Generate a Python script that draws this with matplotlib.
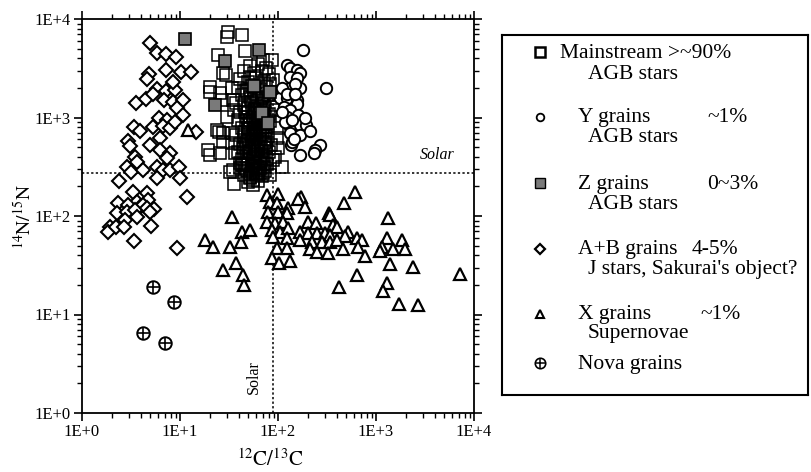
import matplotlib
matplotlib.use("Agg")
import matplotlib.pyplot as plt
from matplotlib.ticker import LogLocator, NullFormatter, FixedFormatter, FixedLocator
import numpy as np

plt.rcParams['font.family'] = ['Liberation Serif', 'DejaVu Serif']
plt.rcParams['mathtext.fontset'] = 'stix'

# ---------------- data (12C/13C, 14N/15N) ----------------
mainstream_c = [31.1, 30.4, 42.6, 46, 24.6, 27.7, 29.5, 70.8, 86.2, 20.2, 20.2, 33.7, 25.6, 26.6, 35,
                35.6, 30, 23.7, 25.2, 27.7, 33.7, 27.7, 33.7, 20.2, 19.4, 25.6, 36.4, 32.4, 40.9, 35.6,
                56, 35, 42.6, 109, 93.2, 101, 97, 97, 82.8, 65.5, 51.8, 89.5, 93.2, 95.4,
                52, 63, 75, 45, 57, 68, 80, 41, 49, 60, 72, 83, 39, 47, 54, 66, 76,
                43, 52, 59, 69, 84, 37, 45, 54, 62, 72, 88, 41, 49, 57, 65, 80,
                39, 47, 55, 62, 71, 83, 43, 49, 57, 66, 76, 37, 45, 52, 60, 69, 79,
                41, 47, 54, 62, 72, 84, 39, 45, 52, 59, 69, 80, 43, 49, 57, 66, 75, 88,
                41, 47, 54, 63, 72, 45, 52, 60, 69,
                50, 58, 66, 74, 48, 56, 63, 70, 51, 59, 67, 74, 46, 55, 63, 71,
                49, 57, 65, 75, 44, 51, 60, 67, 76, 47, 55, 63, 72, 50, 58, 66, 78,
                48, 56, 64, 74, 55, 62, 50,
                53, 61, 68, 46, 58, 71, 52, 64, 49, 60, 70, 54, 66, 47, 57, 73, 51, 62,
                56, 68, 45, 59, 65, 53, 61, 70, 48, 57, 64, 52]
mainstream_n = [7430, 6640, 6880, 4730, 4310, 2810, 2700, 3840, 3840, 2060, 1830, 1980, 1760, 1510, 1510,
                1190, 1020, 747, 718, 692, 692, 568, 547, 416, 468, 433, 433, 282, 343, 211,
                207, 293, 330, 317, 400, 487, 615, 777, 261, 272, 242, 2400, 1690, 1190,
                3350, 3500, 3200, 2950, 2800, 3000, 2750, 2450, 2300, 2500, 2350, 2200, 2000, 1900, 2100, 1950, 2050,
                1700, 1600, 1750, 1620, 1680, 1400, 1330, 1420, 1300, 1380, 1350, 1150, 1100, 1180, 1120, 1080,
                950, 920, 980, 900, 960, 930, 790, 760, 810, 770, 800, 660, 640, 680, 630, 670, 650,
                540, 520, 560, 530, 550, 520, 450, 440, 460, 430, 455, 445, 375, 360, 385, 365, 380, 370,
                310, 300, 320, 305, 315, 260, 250, 265, 255,
                1250, 1230, 1270, 1240, 1020, 1040, 1000, 1030, 870, 850, 880, 860, 720, 700, 730, 710,
                600, 590, 610, 600, 490, 500, 480, 500, 490, 410, 400, 415, 405, 340, 335, 345, 340,
                285, 280, 290, 285, 230, 225, 220,
                1550, 1500, 1580, 1150, 1120, 1160, 940, 920, 790, 770, 800, 650, 660, 560, 540, 570, 450, 470,
                380, 390, 330, 320, 310, 270, 260, 275, 1850, 1800, 1870, 2600]

y_c = [181, 307, 123, 132, 155, 168, 132, 155, 132, 168, 150, 105, 123, 155, 115, 155, 132, 123, 160,
       132, 168, 195, 132, 168, 212, 268, 239, 136, 168, 232, 140, 110, 118, 145, 125, 150, 110, 140, 190]
y_n = [4840, 1980, 3410, 3200, 3040, 2800, 2600, 2500, 1980, 1980, 2200, 1570, 1570, 1500, 1290, 1380,
       1180, 1020, 1070, 807, 830, 830, 691, 670, 730, 526, 468, 526, 416, 440, 560, 2000, 900, 600,
       1750, 1750, 1150, 950, 1000]

z_c = [11.2, 28.8, 64.0, 23.0, 57.5, 81.9, 68.2, 78.5]
z_n = [6220, 3750, 4880, 1324, 2075, 1828, 1111, 880]

ab_c = [4.94, 5.87, 7.19, 9.10, 7.19, 4.86, 4.64, 10.2, 12.9, 5.78, 7.19, 8.89, 8.55, 3.56, 4.50, 5.34,
        6.87, 8.55, 10.8, 9.25, 10.8, 6.06, 7.31, 3.39, 3.91, 5.34, 6.66, 7.91, 8.89, 2.97, 3.09, 3.47,
        4.94, 6.25, 6.25, 7.91, 7.31, 2.86, 3.61, 2.40, 3.14, 4.22, 5.78, 6.76, 5.78, 7.91, 9.84, 10.0,
        11.7, 3.34, 3.61, 4.57, 4.75, 2.35, 2.97, 3.91, 4.22, 2.29, 2.86, 3.47, 4.64, 5.43, 2.75, 3.61,
        4.94, 1.93, 1.85, 2.22, 2.68, 5.02, 3.39, 9.38, 14.6]
ab_n = [5740, 4490, 4380, 4140, 3040, 2760, 2440, 2920, 2920, 1930, 1860, 1900, 2310, 1410, 1530, 1730,
        1510, 1450, 1510, 1240, 1060, 980, 943, 795, 734, 795, 820, 777, 906, 581, 514, 400,
        526, 615, 468, 433, 386, 317, 356, 228, 282, 293, 317, 293, 242, 293, 317, 242,
        157, 177, 140, 170, 145, 135, 129, 124, 129, 108, 111, 115, 120, 117, 91, 97,
        111, 78, 68, 77, 77, 80, 56, 47, 718]

x_c = [610, 475, 101, 76.7, 172, 161, 82.8, 97, 127, 189, 79.6, 101, 123, 331, 340, 1335, 204, 244,
       77.8, 93.2, 113, 366, 397, 86.2, 105, 127, 168, 204, 248, 302, 340, 521, 483, 635, 714, 1285,
       1829, 89.5, 123, 168, 221, 279, 340, 397, 1143, 1503, 1977, 660, 97, 123, 212, 248, 326, 464,
       1100, 772, 86.2, 103, 132, 1390, 2366, 7200, 635, 1285, 1187, 424, 1718, 2702, 33.7, 42.6, 51.8,
       18.0, 21.9, 32.4, 41.6, 37.3, 27.5, 44.3, 45.5, 12.0]
x_n = [177, 136, 167, 163, 157, 148, 140, 135, 120, 122, 111, 111, 107, 108, 102, 95, 87.5, 85.5,
       87.5, 84.3, 87.5, 81, 78, 72, 69, 75, 69, 66.7, 66.7, 66.7, 64, 69, 62.7, 59.4, 57, 59.4,
       57, 61.6, 59.4, 57, 54.9, 54.9, 54.9, 57, 48.8, 45.9, 45.9, 48.8, 47, 47, 45.9, 43.4, 42.4, 45.9,
       44.2, 39.3, 37.2, 33.6, 35.2, 32.6, 30.6, 25.8, 25.2, 20.7, 17.3, 19, 12.8, 12.5, 98, 69, 72,
       57, 48.8, 48.1, 54.9, 33.6, 28.3, 25.2, 19.9, 747]

nova_c = [5.27, 8.69, 4.22, 7.03]
nova_n = [19.2, 13.5, 6.54, 5.1]

solar_c = 89
solar_n = 272

# ---------------- figure ----------------
W, H = 811, 472
fig = plt.figure(figsize=(W / 100, H / 100), dpi=100)
L, R, T, B = 82, 474, 19, 413
ax = fig.add_axes([L / W, 1 - B / H, (R - L) / W, (B - T) / H])
ax.set_xscale('log')
ax.set_yscale('log')
ax.set_xlim(1, 1e4)
ax.set_ylim(1, 1e4)

ax.axhline(solar_n, color='black', lw=1.1, ls=(0, (1.5, 1.5)), zorder=1)
ax.axvline(solar_c, color='black', lw=1.1, ls=(0, (1.5, 1.5)), zorder=1)

ax.plot(ab_c, ab_n, ls='none', marker='D', ms=7.4, mfc='white', mec='black', mew=1.5, zorder=3)
ax.plot(mainstream_c, mainstream_n, ls='none', marker='s', ms=8.6, mfc='none', mec='black', mew=1.1, zorder=3)
ax.plot(y_c, y_n, ls='none', marker='o', ms=8.2, mfc='white', mec='black', mew=1.4, zorder=3)
ax.plot(z_c, z_n, ls='none', marker='s', ms=8.6, mfc='#7a7a7a', mec='black', mew=1.2, zorder=4)
ax.plot(x_c, x_n, ls='none', marker='^', ms=8.2, mfc='white', mec='black', mew=1.6, zorder=5)
ax.plot(nova_c, nova_n, ls='none', marker='o', ms=9, mfc='white', mec='black', mew=1.4, zorder=5)
ax.plot(nova_c, nova_n, ls='none', marker='+', ms=9, mec='black', mew=1.2, zorder=6)

ax.text(2812, 416, 'Solar', style='italic', fontsize=11.5, ha='left', va='center')
ax.text(56.9, 2.32, 'Solar', fontsize=11.5, rotation=90, ha='center', va='center')

# ticks
for spine in ax.spines.values():
    spine.set_linewidth(1.3)
ax.tick_params(which='both', direction='out', top=True, right=True, color='black')
ax.tick_params(which='major', length=6, width=1.2, labelsize=12, pad=2)
ax.tick_params(which='minor', length=3.5, width=1.0)
ax.xaxis.set_major_locator(FixedLocator([1, 10, 100, 1000, 10000]))
ax.yaxis.set_major_locator(FixedLocator([1, 10, 100, 1000, 10000]))
ax.xaxis.set_major_formatter(FixedFormatter(['1E+0', '1E+1', '1E+2', '1E+3', '1E+4']))
ax.yaxis.set_major_formatter(FixedFormatter(['1E+0', '1E+1', '1E+2', '1E+3', '1E+4']))
ax.xaxis.set_minor_locator(LogLocator(base=10, subs=np.arange(2, 10), numticks=20))
ax.yaxis.set_minor_locator(LogLocator(base=10, subs=np.arange(2, 10), numticks=20))
ax.xaxis.set_minor_formatter(NullFormatter())
ax.yaxis.set_minor_formatter(NullFormatter())

ax.set_xlabel(r'$^{12}\mathrm{C}/^{13}\mathrm{C}$', fontsize=15, va='center')
ax.xaxis.set_label_coords(0.48, -0.12)
ax.set_ylabel(r'$^{14}\mathrm{N}/^{15}\mathrm{N}$', fontsize=14, va='center')
ax.yaxis.set_label_coords(-0.148, 0.5)

# ---------------- legend box (manual) ----------------
LL, LR, LT, LB = 502, 808, 35, 395
lax = fig.add_axes([LL / W, 1 - LB / H, (LR - LL) / W, (LB - LT) / H])
lax.set_xlim(0, LR - LL)
lax.set_ylim(LB - LT, 0)
lax.set_xticks([])
lax.set_yticks([])
for spine in lax.spines.values():
    spine.set_linewidth(1.5)

fs = 15.5
mx = 38
entries = [
    (16.7, dict(marker='s', ms=6.5, mfc='white', mec='black', mew=1.8)),
    (81.7, dict(marker='o', ms=5.5, mfc='white', mec='black', mew=1.3)),
    (148, dict(marker='s', ms=6.5, mfc='#7a7a7a', mec='black', mew=1.0)),
    (214, dict(marker='D', ms=5.5, mfc='white', mec='black', mew=1.6)),
    (279, dict(marker='^', ms=6, mfc='white', mec='black', mew=1.5)),
    (328, dict(marker='o', ms=7.5, mfc='white', mec='black', mew=1.2)),
]
for yy, kw in entries:
    lax.plot([mx], [yy], ls='none', **kw)
lax.plot([mx], [328], ls='none', marker='+', ms=7.5, mec='black', mew=1.1)

texts = [
    (58, 23, 'Mainstream >~90%'),
    (86, 44, 'AGB stars'),
    (76, 87, 'Y grains'), (205, 87, '~1%'),
    (86, 107, 'AGB stars'),
    (76, 154, 'Z grains'), (205, 154, '0~3%'),
    (86, 174, 'AGB stars'),
    (76, 219, 'A+B grains'), (190, 219, '4-5%'),
    (86, 239, "J stars, Sakurai's object?"),
    (76, 284, 'X grains'), (198, 284, '~1%'),
    (86, 303, 'Supernovae'),
    (76, 334, 'Nova grains'),
]
for tx, ty, s in texts:
    lax.text(tx, ty, s, fontsize=fs, va='baseline', ha='left')

fig.savefig('out.png', dpi=100)
